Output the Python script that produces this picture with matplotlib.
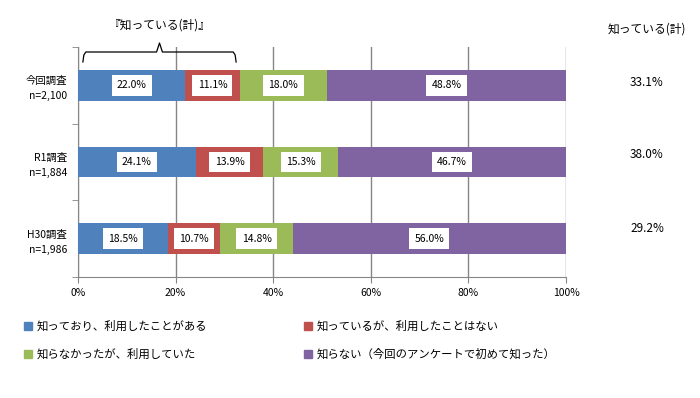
import matplotlib
matplotlib.use("Agg")
import matplotlib.pyplot as plt
from matplotlib.transforms import blended_transform_factory
import numpy as np

plt.rcParams['font.family'] = ['Noto Sans CJK JP', 'DejaVu Sans']

categories = ["今回調査\nn=2,100", "R1調査\nn=1,884", "H30調査\nn=1,986"]
series_names = ["知っており、利用したことがある", "知っているが、利用したことはない",
                "知らなかったが、利用していた", "知らない（今回のアンケートで初めて知った）"]
known = [22.0, 24.1, 18.5]
known_unused = [11.1, 13.9, 10.7]
unknown_used = [18.0, 15.3, 14.8]
unknown = [48.8, 46.7, 56.0]
total_known = ["33.1%", "38.0%", "29.2%"]
colors = ["#4F81BD", "#C0504D", "#9BBB59", "#8064A2"]

fig = plt.figure(figsize=(7.0, 3.98), dpi=100)
ax = fig.add_axes([78/700, 1-277/398, (566-78)/700, (277-47)/398])

series = [known, known_unused, unknown_used, unknown]
y = np.arange(len(categories))
left = np.zeros(len(categories))
for vals, col, name in zip(series, colors, series_names):
    vals = np.array(vals)
    ax.barh(y, vals, left=left, height=0.4, color=col, label=name, zorder=3)
    for yi, l, v in zip(y, left, vals):
        ax.text(l + v/2, yi, f"{v:.1f}%", ha='center', va='center', fontsize=7.5,
                bbox=dict(boxstyle='square,pad=0.5', fc='white', ec='none'), zorder=4)
    left = left + vals

ax.set_xlim(0, 100)
ax.set_ylim(2.5, -0.5)
ax.set_xticks([0, 20, 40, 60, 80, 100])
ax.set_xticklabels(["0%", "20%", "40%", "60%", "80%", "100%"], fontsize=7.5)
ax.set_yticks(y)
ax.set_yticklabels(categories, fontsize=7.5, linespacing=1.6)
ax.set_yticks([-0.5, 0.5, 1.5, 2.5], minor=True)
ax.tick_params(axis='y', which='major', length=0, pad=8)
ax.tick_params(axis='y', which='minor', length=4, color='#868686', direction='out')
ax.tick_params(axis='x', length=4, color='#868686', direction='out', pad=4)
ax.grid(axis='x', color='#868686', linewidth=1, zorder=0)
for s in ['top', 'right']:
    ax.spines[s].set_visible(False)
for s in ['left', 'bottom']:
    ax.spines[s].set_color('#868686')

def fy(p):
    return 1 - p/398

# bracket above first bar
bt = blended_transform_factory(ax.transData, fig.transFigure)
bx0, bx1 = 1.0, known[0] + known_unused[0] - 0.7
mid = (bx0 + bx1)/2
xs = [bx0, bx0 + 0.2, bx0 + 0.6, mid - 0.6, mid, mid + 0.6, bx1 - 0.6, bx1 - 0.2, bx1]
ys = [fy(62), fy(55), fy(52), fy(52), fy(43), fy(52), fy(52), fy(55), fy(62)]
ax.plot(xs, ys, color='black', lw=0.9, transform=bt, clip_on=False)
fig.text(160/700, fy(25), "『知っている(計)』", ha='center', va='center', fontsize=8.5)

# right column
fig.text(647/700, fy(29), "知っている(計)", ha='center', va='center', fontsize=8.5)
for yy, t in zip([83, 155, 228], total_known):
    fig.text(647/700, fy(yy), t, ha='center', va='center', fontsize=8.5)

# legend
pos = [(28, 326), (308, 326), (28, 354), (308, 354)]
for (px, py), col, name in zip(pos, colors, series_names):
    fig.patches.append(plt.Rectangle(((px-4)/700, fy(py+4)), 8/700, 8/398,
                                     transform=fig.transFigure, color=col))
    fig.text((px+9)/700, fy(py), name, ha='left', va='center', fontsize=8.2)

fig.savefig("out.png", dpi=100)
